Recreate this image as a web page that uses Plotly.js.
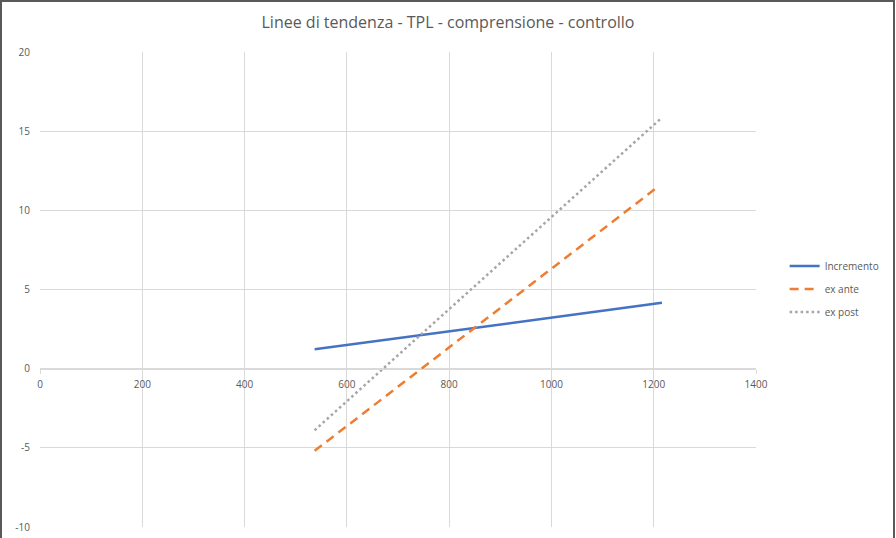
<!DOCTYPE html>
<html>
<head>
<meta charset="utf-8">
<script src="https://cdn.plot.ly/plotly-3.0.1.min.js"></script>
<style>
  html, body { margin: 0; padding: 0; background: #fff; }
  #frame { position: absolute; left: 0; top: 0; width: 891px; height: 540px; border: 2px solid #595959; border-bottom: none; }
  #chart { position: absolute; left: 0; top: 0; width: 896px; height: 538px; }
</style>
</head>
<body>
<div id="chart"></div>
<div id="frame"></div>
<script>
const seriesNames = ["Incremento", "ex ante", "ex post"];
const incrementoX = [537, 1216];
const incrementoY = [1.22, 4.16];
const exAnteX = [537, 1202];
const exAnteY = [-5.19, 11.33];
const exPostX = [537, 1212];
const exPostY = [-3.89, 15.74];
const xTicks = [0, 200, 400, 600, 800, 1000, 1200, 1400];
const yTicks = [-10, -5, 0, 5, 10, 15, 20];

const traces = [
  { x: incrementoX, y: incrementoY, name: seriesNames[0], mode: "lines", legendgroup: "a",
    line: { color: "#4472C4", width: 2.5 } },
  { x: exAnteX, y: exAnteY, name: seriesNames[1], mode: "lines", legendgroup: "b",
    line: { color: "#ED7D31", width: 2.5, dash: "9px,6px" } },
  { x: exPostX, y: exPostY, name: seriesNames[2], mode: "lines", legendgroup: "c",
    line: { color: "#A5A5A5", width: 2.5, dash: "2.5px,3px" } }
];

const layout = {
  width: 896, height: 538,
  margin: { l: 40, r: 137, t: 52, b: 11 },
  paper_bgcolor: "#fff", plot_bgcolor: "#fff",
  font: { family: "Open Sans, sans-serif", color: "#595959", size: 10 },
  title: { text: "Linee di tendenza - TPL - comprensione - controllo",
           x: 0.5, xanchor: "center", y: 0.958, yanchor: "middle",
           font: { size: 16, color: "#595959", family: "Open Sans, sans-serif" } },
  xaxis: {
    range: [0, 1400], tickvals: xTicks, ticktext: xTicks.map(String),
    showgrid: true, gridcolor: "#d9d9d9", gridwidth: 1,
    zeroline: false, showline: true, linecolor: "#d9d9d9", linewidth: 1,
    anchor: "free", position: 1/3,
    ticks: "outside", ticklen: 4, tickcolor: "#d9d9d9",
    ticklabelstandoff: 2,
    tickfont: { size: 10, color: "#595959" }, fixedrange: true
  },
  yaxis: {
    range: [-10, 20], tickvals: yTicks, ticktext: yTicks.map(String),
    showgrid: true, gridcolor: "#d9d9d9", gridwidth: 1,
    zeroline: false, showline: false,
    ticks: "", ticklabelstandoff: 9,
    tickfont: { size: 10, color: "#595959" }, fixedrange: true
  },
  showlegend: true,
  legend: {
    x: 1.04, xanchor: "left", y: 0.58, yanchor: "top",
    font: { size: 10, color: "#595959" },
    tracegroupgap: 4, bgcolor: "rgba(0,0,0,0)", itemwidth: 30
  }
};

Plotly.newPlot("chart", traces, layout, { displayModeBar: false, staticPlot: true });
</script>
</body>
</html>
